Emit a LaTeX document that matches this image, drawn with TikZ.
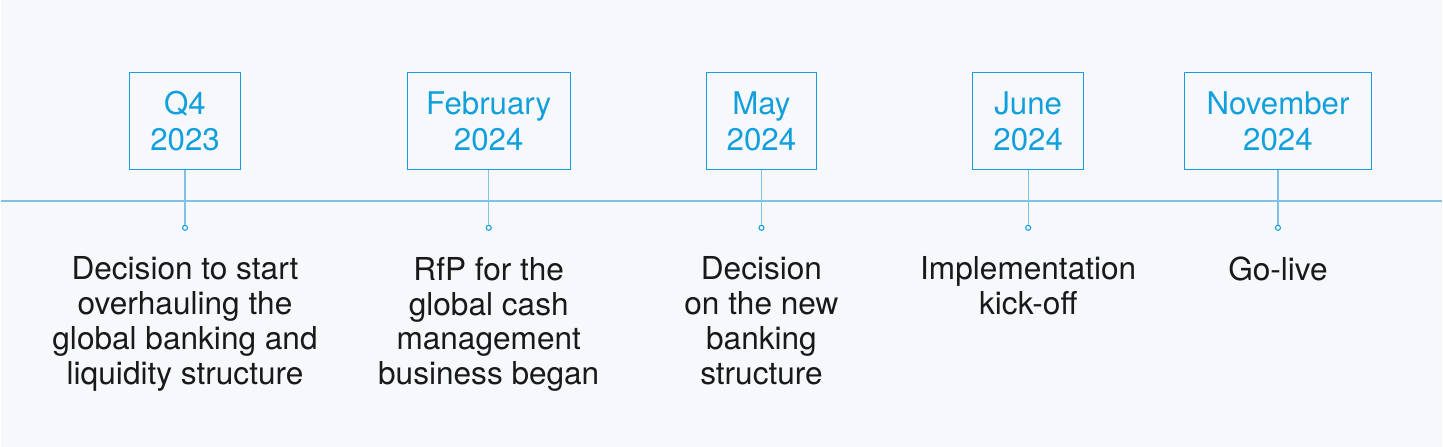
\documentclass[tikz,border=0pt]{standalone}
\usepackage{fontspec}
\setmainfont{TeX Gyre Heros}
\usetikzlibrary{positioning}
\definecolor{bg}{HTML}{F6F8FC}
\definecolor{tblue}{HTML}{12A0DD}
\definecolor{lblue}{HTML}{7EC3E6}
\begin{document}
\begin{tikzpicture}[x=0.02cm,y=-0.02cm]
            \tikzset{datebox/.style = {draw=tblue,text=tblue,line width=0.6pt,minimum height=1.94cm,align=center,font=\fontsize{17.8}{20.5}\selectfont,inner sep=0pt}}
            \tikzset{dot/.style = {circle,draw=tblue,line width=0.6pt,inner sep=0pt,minimum size=0.1cm}}
            \tikzset{desc/.style = {anchor=north,align=center,font=\fontsize{18}{19.9}\selectfont,text=black!90}}
            \tikzset{stem/.style = {draw=lblue,line width=0.8pt}}
            \fill[bg] (0,0) rectangle (1443,447);
            \coordinate (l) at (0,201);
            \coordinate (r) at (1443,201);
            \draw[stem] (l) -- (r);
            \node[datebox, minimum width=2.22cm] (q4) at (184.5,121.5) {Q4\\2023};
            \node[datebox, minimum width=3.26cm] (feb) at (488.5,121.5) {February\\2024};
            \node[datebox, minimum width=2.22cm] (may) at (761.5,121.5) {May\\2024};
            \node[datebox, minimum width=2.22cm] (jun) at (1028.5,121.5) {June\\2024};
            \node[datebox, minimum width=3.74cm] (nov) at (1278.5,121.5) {November\\2024};
            \node[dot] (d1) at (184.5,228) {};
            \node[dot] (d2) at (488.5,228) {};
            \node[dot] (d3) at (761.5,228) {};
            \node[dot] (d4) at (1028.5,228) {};
            \node[dot] (d5) at (1278.5,228) {};
            \draw[stem] (q4) -- (d1);
            \draw[stem] (feb) -- (d2);
            \draw[stem] (may) -- (d3);
            \draw[stem] (jun) -- (d4);
            \draw[stem] (nov) -- (d5);
            \node[desc] (t1) at (184.5,251) {Decision to start\\overhauling the\\global banking and\\liquidity structure};
            \node[desc] (t2) at (488.5,251) {RfP for the\\global cash\\management\\business began};
            \node[desc] (t3) at (761.5,251) {Decision\\on the new\\banking\\structure};
            \node[desc] (t4) at (1028.5,251) {Implementation\\kick-off};
            \node[desc] (t5) at (1278.5,251) {Go-live};
          \end{tikzpicture}
\end{document}
